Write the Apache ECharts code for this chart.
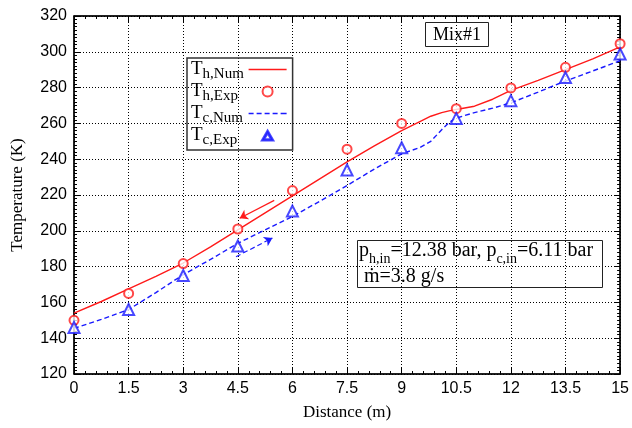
<!DOCTYPE html>
<html>
<head>
<meta charset="utf-8">
<style>
html, body { margin: 0; padding: 0; background: #fff; }
#chart { width: 632px; height: 428px; }
</style>
<script src="https://cdn.jsdelivr.net/npm/echarts@6/dist/echarts.min.js"></script>
</head>
<body>
<div id="chart"></div>
<script>
// measuring stations (m) and measured temperatures (K)
var expDist = [0, 1.5, 3, 4.5, 6, 7.5, 9, 10.5, 12, 13.5, 15];
var thExp = [150, 165, 181.7, 201, 222.5, 245.6, 260, 268.2, 279.8, 291.3, 304.5];
var tcExp = [146, 156, 175, 191.5, 211, 234, 246.4, 262.8, 272.7, 285.6, 298.8];

// numerical profiles
var numDist = [0, 0.75, 1.5, 2.25, 3, 3.75, 4.5, 5.25, 6, 6.75, 7.5, 8.25, 9, 9.5, 9.8, 10.1, 10.3, 10.5, 11, 11.5, 12, 12.75, 13.5, 14.25, 15];
var thNum = [154, 160.5, 167.5, 174.5, 182, 191, 200.5, 210, 219.5, 229, 238.5, 247.5, 256, 261, 264, 266, 267, 267.8, 269.6, 273.5, 278.5, 284, 290, 296, 302.8];
var tcNum = [145.5, 150.5, 156, 165.5, 175.5, 184, 193, 200.5, 208, 216.5, 225.3, 234.5, 243, 246.5, 250, 256.5, 260.5, 263, 266, 268.5, 271.5, 277.5, 283.7, 289.3, 295];

// flow direction arrows (data units)
var hotArrow = [[5.5, 217], [4.55, 207]];
var coldArrow = [[4.45, 185.5], [5.45, 196]];

var xMin = 0, xMax = 15, xStep = 1.5;
var yMin = 120, yMax = 320, yStep = 20;

var serif = 'Liberation Serif';
var sans = 'Liberation Sans';

// legend icons
var solidIcon = 'path://M0,0L38,0L38,1.4L0,1.4Z';
var dashedIcon = 'path://M0,0L5,0L5,1.4L0,1.4Z M8,0L13,0L13,1.4L8,1.4Z M16,0L21,0L21,1.4L16,1.4Z M24,0L29,0L29,1.4L24,1.4Z M32,0L38,0L38,1.4L32,1.4Z';
var triIcon = 'path://M5,0L10,8.66L0,8.66Z M5,2.3L2,7.6L8,7.6Z';

function zip(xs, ys) {
    return xs.map(function (x, i) { return [x, ys[i]]; });
}

var gridLine = { show: true, lineStyle: { color: '#000', width: 1, type: [1, 2] } };

function baseAxis(extra) {
    var a = {
        type: 'value',
        axisLine: { show: true, onZero: false, lineStyle: { color: '#000', width: 1.5 } },
        axisTick: { show: true, inside: true, length: 6, lineStyle: { color: '#000' } },
        minorTick: { show: true, splitNumber: 10, length: 3, lineStyle: { color: '#000' } },
        splitLine: { show: false }
    };
    for (var k in extra) a[k] = extra[k];
    return a;
}

var chart = echarts.init(document.getElementById('chart'));

chart.setOption({
    animation: false,
    backgroundColor: '#fff',
    grid: { left: 74, right: 10, top: 16, bottom: 54, show: true, borderColor: '#000', borderWidth: 1 },
    title: [{
        text: 'Mix#1',
        left: 425, top: 22,
        borderColor: '#222', borderWidth: 1,
        padding: [4, 8, 3, 8],
        textStyle: { fontFamily: serif, fontSize: 18, fontWeight: 'normal', color: '#000' }
    }, {
        text: '{n|p}{s|h,in}{n|=12.38 bar, p}{s|c,in}{n|=6.11 bar}\n{n| ṁ=3.8 g/s}',
        left: 357, top: 240,
        borderColor: '#222', borderWidth: 1,
        padding: [1, 10, 1, 2],
        textStyle: {
            fontWeight: 'normal',
            rich: {
                n: { fontFamily: serif, fontSize: 20, fontWeight: 'normal', color: '#000', lineHeight: 26, verticalAlign: 'top' },
                s: { fontFamily: serif, fontSize: 14, fontWeight: 'normal', color: '#000', lineHeight: 14, padding: [11, 0, 0, 0], verticalAlign: 'top' }
            }
        }
    }],
    legend: {
        left: 187, top: 58,
        orient: 'vertical',
        align: 'right',
        selectedMode: false,
        borderColor: '#333', borderWidth: 1.5,
        padding: [2, 6, 2, 4],
        itemWidth: 38, itemHeight: 10, itemGap: 0,
        data: [
            { name: 'Th,Num', icon: solidIcon },
            { name: 'Th,Exp', icon: 'emptyCircle' },
            { name: 'Tc,Num', icon: dashedIcon },
            { name: 'Tc,Exp', icon: triIcon }
        ],
        formatter: function (name) { return '{t|T}{s|' + name.slice(1) + '}'; },
        textStyle: {
            rich: {
                t: { fontFamily: serif, fontSize: 19, color: '#000', lineHeight: 19, align: 'left', verticalAlign: 'top' },
                s: { fontFamily: serif, fontSize: 15, color: '#000', lineHeight: 15, width: 41, align: 'left', padding: [7, 0, 0, 0], verticalAlign: 'top' }
            }
        }
    },
    xAxis: [
        baseAxis({
            position: 'bottom', min: xMin, max: xMax, interval: xStep,
            name: 'Distance (m)', nameLocation: 'middle', nameGap: 30,
            nameTextStyle: { fontFamily: serif, fontSize: 17, color: '#000' },
            axisLabel: { color: '#000', fontFamily: sans, fontSize: 16, margin: 7 },
            splitLine: gridLine,
            minorTick: { show: true, splitNumber: 5, length: 3, lineStyle: { color: '#000' } }
        }),
        baseAxis({
            position: 'top', min: xMin, max: xMax, interval: xStep,
            axisLabel: { show: false },
            minorTick: { show: true, splitNumber: 5, length: 3, lineStyle: { color: '#000' } }
        })
    ],
    yAxis: [
        baseAxis({
            position: 'left', min: yMin, max: yMax, interval: yStep,
            name: 'Temperature (K)', nameLocation: 'middle', nameGap: 48,
            nameTextStyle: { fontFamily: serif, fontSize: 17, color: '#000' },
            axisLabel: { color: '#000', fontFamily: sans, fontSize: 16, margin: 7 },
            splitLine: gridLine
        }),
        baseAxis({
            position: 'right', min: yMin, max: yMax, interval: yStep,
            axisLabel: { show: false }
        })
    ],
    series: [{
        name: 'Th,Num',
        type: 'line',
        data: zip(numDist, thNum),
        symbol: 'none',
        lineStyle: { color: '#ff1a1a', width: 1.4 },
        itemStyle: { color: '#ff1a1a' },
        z: 3,
        markLine: {
            silent: true,
            symbol: ['none', 'arrow'],
            symbolSize: 8,
            label: { show: false },
            lineStyle: { color: '#ff1a1a', width: 1.2, type: 'solid' },
            data: [[{ coord: hotArrow[0] }, { coord: hotArrow[1] }]]
        }
    }, {
        name: 'Th,Exp',
        type: 'scatter',
        data: zip(expDist, thExp),
        symbol: 'emptyCircle',
        symbolSize: 9,
        itemStyle: { color: '#ff1a1a', borderColor: '#ff1a1a', borderWidth: 1.3 },
        z: 5
    }, {
        name: 'Tc,Num',
        type: 'line',
        data: zip(numDist, tcNum),
        symbol: 'none',
        lineStyle: { color: '#1a1aff', width: 1.4, type: [5, 3] },
        itemStyle: { color: '#1a1aff' },
        z: 3,
        markLine: {
            silent: true,
            symbol: ['none', 'arrow'],
            symbolSize: 8,
            label: { show: false },
            lineStyle: { color: '#1a1aff', width: 1.2, type: [5, 3] },
            data: [[{ coord: coldArrow[0] }, { coord: coldArrow[1] }]]
        }
    }, {
        name: 'Tc,Exp',
        type: 'scatter',
        data: zip(expDist, tcExp),
        symbol: 'emptyTriangle',
        symbolSize: 11,
        itemStyle: { color: '#1a1aff', borderColor: '#1a1aff', borderWidth: 1.3 },
        z: 5
    }]
});
</script>
</body>
</html>
